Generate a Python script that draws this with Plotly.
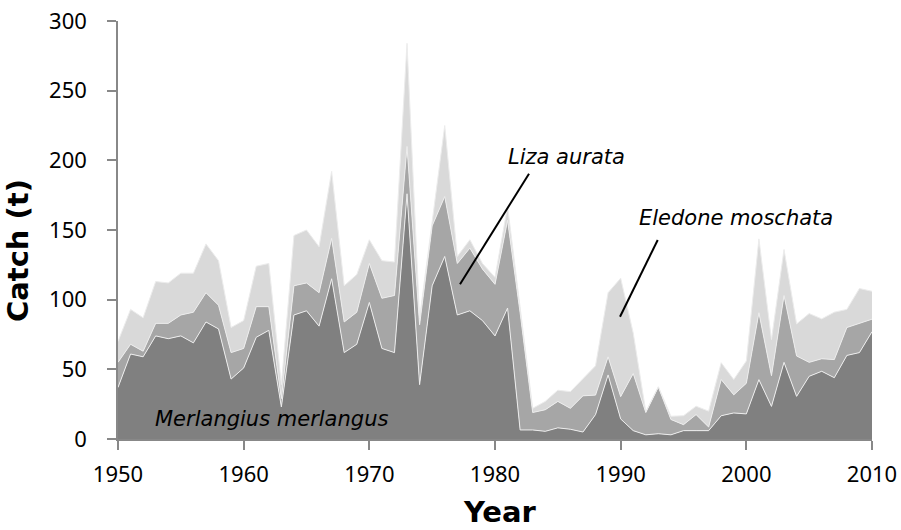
import plotly.graph_objects as go

years = list(range(1950, 2011))

merlangius = [37, 61, 59, 74, 72, 74, 69, 84, 79, 43,
              51, 73, 78, 23, 89, 92, 81, 115, 62, 68,
              98, 65, 62, 176, 39, 110, 131, 89, 92, 85,
              74, 94, 6.5, 6.5, 5.5, 8, 7, 5, 17.5, 46,
              14.4, 6, 3, 3.8, 3, 6, 6, 6, 16.7, 18.7,
              18, 42.6, 23.4, 55, 30.6, 45, 48.6, 44, 60, 62,
              77]

liza = [18, 7, 4, 9, 11, 15, 22, 21, 17, 19,
        14, 22, 17, 6, 21, 20, 24, 29, 22, 23,
        28, 36, 41, 34, 43, 43, 43, 37, 45, 37,
        37, 63, 84, 12.5, 15.5, 19, 15, 26, 14, 13,
        16, 41, 16, 33.5, 11, 4.3, 11.5, 2.6, 26, 13,
        22, 48, 22, 48, 29, 10, 9, 13, 20, 21,
        9]

eledone = [15, 25, 24, 30, 29, 30, 28, 35, 32, 18,
           20, 29, 31, 10, 36, 38, 33, 48, 26, 27,
           17, 27, 24, 74, 5, 4, 51, 5, 6, 4,
           5, 10, 3, 3, 6, 8, 12, 12, 21, 46,
           85, 29, 0.5, 0.2, 2.3, 6.4, 6, 11.4, 12, 11,
           16, 53, 26, 33, 23, 35, 28.6, 34, 13, 25,
           20]

series = [
    ("Merlangius merlangus", merlangius, "#808080"),
    ("Liza aurata", liza, "#a6a6a6"),
    ("Eledone moschata", eledone, "#d9d9d9"),
]

x_ticks = [1950, 1960, 1970, 1980, 1990, 2000, 2010]
y_ticks = [0, 50, 100, 150, 200, 250, 300]

fig = go.Figure()
for name, vals, col in series:
    fig.add_trace(go.Scatter(
        x=years, y=vals, name=name, mode="lines",
        stackgroup="catch",
        line=dict(color="#ececec", width=1),
        fillcolor=col,
        hoverinfo="x+y+name",
    ))

axis_col = "#888888"
tick_font = dict(family="Noto Sans", size=22, color="#000000")

fig.update_layout(
    width=901, height=530,
    margin=dict(l=118, r=29, t=21, b=91),
    paper_bgcolor="white", plot_bgcolor="white",
    showlegend=False,
    xaxis=dict(
        range=[1950, 2010], tickvals=x_ticks, ticktext=[str(v) for v in x_ticks],
        showgrid=False, zeroline=False, automargin=False,
        showline=True, linecolor=axis_col, linewidth=1.5,
        ticks="outside", ticklen=9, tickwidth=1.5, tickcolor=axis_col,
        tickfont=tick_font, ticklabelstandoff=6,
    ),
    yaxis=dict(
        range=[0, 300], tickvals=y_ticks,
        showgrid=False, zeroline=False, automargin=False,
        showline=True, linecolor=axis_col, linewidth=1.5,
        ticks="outside", ticklen=9, tickwidth=1.5, tickcolor=axis_col,
        tickfont=tick_font, ticklabelstandoff=16,
    ),
)

title_font = dict(family="DejaVu Sans", size=29, color="#000000", weight="bold")
fig.add_annotation(text="Catch (t)", xref="paper", yref="paper",
                   x=-0.1325, y=0.4498, xanchor="center", yanchor="middle",
                   textangle=-90, showarrow=False, font=title_font)
fig.add_annotation(text="Year", xref="paper", yref="paper",
                   x=0.5066, y=-0.1746, xanchor="center", yanchor="middle",
                   showarrow=False, font=title_font)

lab_font = dict(family="DejaVu Sans", size=21, color="#000000", style="italic")
fig.add_annotation(text="Liza aurata", xref="paper", yref="paper",
                   x=0.5142, y=0.6746, xanchor="left", yanchor="middle",
                   showarrow=False, font=lab_font)
fig.add_annotation(text="Eledone moschata", xref="paper", yref="paper",
                   x=0.6887, y=0.528, xanchor="left", yanchor="middle",
                   showarrow=False, font=lab_font)
fig.add_annotation(text="Merlangius merlangus", xref="paper", yref="paper",
                   x=0.0464, y=0.0478, xanchor="left", yanchor="middle",
                   showarrow=False, font=lab_font)

fig.add_shape(type="line", xref="paper", yref="paper",
              x0=0.5451, y0=0.6347, x1=0.4536, y1=0.3701,
              line=dict(color="#000000", width=2))
fig.add_shape(type="line", xref="paper", yref="paper",
              x0=0.7158, y0=0.4761, x1=0.6658, y1=0.2926,
              line=dict(color="#000000", width=2))

fig.write_html(
    "out.html",
    config={"displayModeBar": False},
    post_script="document.body.style.margin='0';document.body.style.overflow='hidden';",
)
